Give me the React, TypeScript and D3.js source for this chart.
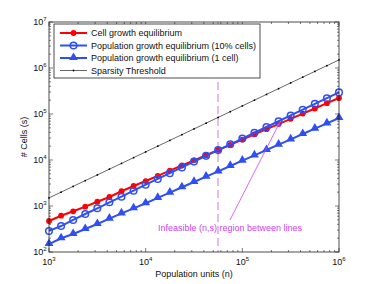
import * as d3 from "d3";

// population units (n), 8 points per decade
const popUnits = [
  1000, 1334, 1778, 2371, 3162, 4217, 5623, 7499, 10000, 13335, 17783, 23714,
  31623, 42170, 56234, 74989, 100000, 133352, 177828, 237137, 316228, 421697,
  562341, 749894, 1000000,
];
const cellGrowth = [
  472, 615, 767, 966, 1240, 1570, 2090, 2720, 3490, 4520, 5860, 7590, 9840,
  12740, 16520, 21380, 27730, 35970, 46770, 60260, 78520, 101900, 131800,
  171800, 222800,
];
const popGrowth10 = [
  287, 367, 497, 670, 891, 1202, 1592, 2153, 2904, 3873, 5176, 6902, 9226,
  12300, 16410, 21930, 29240, 39080, 52120, 69500, 92900, 123900, 165600,
  220700, 295100,
];
const popGrowth1 = [
  149, 199, 246, 316, 406, 530, 693, 891, 1146, 1496, 1954, 2553, 3327, 4345,
  5675, 7413, 9683, 12620, 16480, 21520, 28120, 36730, 47970, 62660, 81850,
];
const sparsity = [
  1500, 2000, 2670, 3560, 4740, 6330, 8430, 11250, 15000, 20000, 26670, 35570,
  47430, 63250, 84350, 112500, 150000, 200000, 266700, 355700, 474300, 632500,
  843500, 1125000, 1500000,
];
const legendLabels = [
  "Cell growth equilibrium",
  "Population growth equilibrium (10% cells)",
  "Population growth equilibrium (1 cell)",
  "Sparsity Threshold",
];
const xMajor = [3, 4, 5, 6];
const yMajor = [2, 3, 4, 5, 6, 7];
const boundaryN = 56000;
const arrowFrom = [74500, 497];
const arrowTo = [245000, 67000];

const RED = "#ff0000";
const BLUE = "#2f4ff5";
const MAGENTA = "#cc44ee";
const FONT = "'Liberation Sans', Arial, Helvetica, sans-serif";

export default function App() {
  const x = d3.scaleLog().domain([1e3, 1e6]).range([49, 339]);
  const y = d3.scaleLog().domain([1e2, 1e7]).range([252, 22]);
  const [x0, x1] = x.range();
  const [y0, y1] = y.range();

  const line = d3
    .line<number>()
    .x((_, i) => x(popUnits[i]))
    .y((d) => y(d));

  const xTicks = x.ticks();
  const yTicks = y.ticks();
  const isMajor = (v: number) => Math.abs(Math.log10(v) - Math.round(Math.log10(v))) < 1e-6;

  const tri = d3.symbol().type(d3.symbolTriangle).size(34)();

  const legendY = [33, 45.5, 58, 70.5];

  const ax = x(arrowFrom[0]);
  const ay = y(arrowFrom[1]);
  const bx = x(arrowTo[0]);
  const by = y(arrowTo[1]);
  const ang = Math.atan2(by - ay, bx - ax);
  const head = (a: number) => `${bx - 5 * Math.cos(ang + a)},${by - 5 * Math.sin(ang + a)}`;

  return (
    <svg
      width={374}
      height={284}
      style={{ position: "absolute", left: 0, top: 0, background: "#fff" }}
      fontFamily={FONT}
    >
      {/* boundary */}
      <line
        x1={x(boundaryN)}
        x2={x(boundaryN)}
        y1={y1}
        y2={y0}
        stroke="#dda6f2"
        strokeWidth={1.5}
        strokeDasharray="8,4"
      />

      {/* sparsity */}
      <path d={line(sparsity)!} fill="none" stroke="#000" strokeWidth={0.6} />
      {sparsity.map((d, i) => (
        <circle key={"s" + i} cx={x(popUnits[i])} cy={y(d)} r={0.9} fill="#000" />
      ))}

      {/* red */}
      <path d={line(cellGrowth)!} fill="none" stroke={RED} strokeWidth={2} />
      {cellGrowth.map((d, i) => (
        <circle key={"r" + i} cx={x(popUnits[i])} cy={y(d)} r={2.9} fill={RED} />
      ))}

      {/* blue circles */}
      <path d={line(popGrowth10)!} fill="none" stroke={BLUE} strokeWidth={2} />
      {popGrowth10.map((d, i) => (
        <circle
          key={"b" + i}
          cx={x(popUnits[i])}
          cy={y(d)}
          r={3.3}
          fill="none"
          stroke={BLUE}
          strokeWidth={1.5}
        />
      ))}

      {/* triangles */}
      <path d={line(popGrowth1)!} fill="none" stroke={BLUE} strokeWidth={2} />
      {popGrowth1.map((d, i) => (
        <path
          key={"t" + i}
          d={tri!}
          transform={`translate(${x(popUnits[i])},${y(d) - 0.5})`}
          fill={BLUE}
        />
      ))}

      {/* annotation */}
      <line x1={ax} y1={ay} x2={bx} y2={by} stroke={MAGENTA} strokeWidth={0.8} />
      <polygon points={`${bx},${by} ${head(0.35)} ${head(-0.35)}`} fill={MAGENTA} />
      <text x={230} y={231} fontSize={9} fill={MAGENTA} textAnchor="middle">
        Infeasible (n,s) region between lines
      </text>

      {/* axes box */}
      <rect x={x0} y={y1} width={x1 - x0} height={y0 - y1} fill="none" stroke="#222" strokeWidth={0.8} />
      {xTicks.map((t, i) => {
        const len = isMajor(t) ? 4 : 2;
        const px = x(t);
        return (
          <g key={"xt" + i} stroke="#222" strokeWidth={0.6}>
            <line x1={px} x2={px} y1={y0} y2={y0 - len} />
            <line x1={px} x2={px} y1={y1} y2={y1 + len} />
          </g>
        );
      })}
      {yTicks.map((t, i) => {
        const len = isMajor(t) ? 4 : 2;
        const py = y(t);
        return (
          <g key={"yt" + i} stroke="#222" strokeWidth={0.6}>
            <line x1={x0} x2={x0 + len} y1={py} y2={py} />
            <line x1={x1} x2={x1 - len} y1={py} y2={py} />
          </g>
        );
      })}

      {xMajor.map((e) => (
        <text key={"xl" + e} x={x(Math.pow(10, e))} y={265} fontSize={9} textAnchor="middle" fill="#111">
          10<tspan fontSize={6} dy={-4}>{e}</tspan>
        </text>
      ))}
      {yMajor.map((e) => (
        <text key={"yl" + e} x={46.5} y={y(Math.pow(10, e)) + 3} fontSize={9} textAnchor="end" fill="#111">
          10<tspan fontSize={6} dy={-4}>{e}</tspan>
        </text>
      ))}

      <text x={194} y={277} fontSize={9} textAnchor="middle" fill="#111">
        Population units (n)
      </text>
      <text
        transform={`translate(27,${(y0 + y1) / 2}) rotate(-90)`}
        fontSize={9}
        textAnchor="middle"
        fill="#111"
      >
        # Cells (s)
      </text>

      {/* legend */}
      <rect x={54} y={24} width={206} height={54} fill="#fff" stroke="#222" strokeWidth={0.8} />
      {legendLabels.map((label, i) => {
        const ly = legendY[i];
        return (
          <g key={"lg" + i}>
            {i === 0 && (
              <>
                <line x1={60} x2={87} y1={ly} y2={ly} stroke={RED} strokeWidth={2} />
                <circle cx={73.5} cy={ly} r={2.9} fill={RED} />
              </>
            )}
            {i === 1 && (
              <>
                <line x1={60} x2={87} y1={ly} y2={ly} stroke={BLUE} strokeWidth={2} />
                <circle cx={73.5} cy={ly} r={3.3} fill="none" stroke={BLUE} strokeWidth={1.5} />
              </>
            )}
            {i === 2 && (
              <>
                <line x1={60} x2={87} y1={ly} y2={ly} stroke={BLUE} strokeWidth={2} />
                <path d={tri!} transform={`translate(73.5,${ly - 0.5})`} fill={BLUE} />
              </>
            )}
            {i === 3 && (
              <>
                <line x1={60} x2={87} y1={ly} y2={ly} stroke="#000" strokeWidth={0.6} />
                <circle cx={73.5} cy={ly} r={0.9} fill="#000" />
              </>
            )}
            <text x={91} y={ly + 3.2} fontSize={9} fill="#111">
              {label}
            </text>
          </g>
        );
      })}
    </svg>
  );
}
